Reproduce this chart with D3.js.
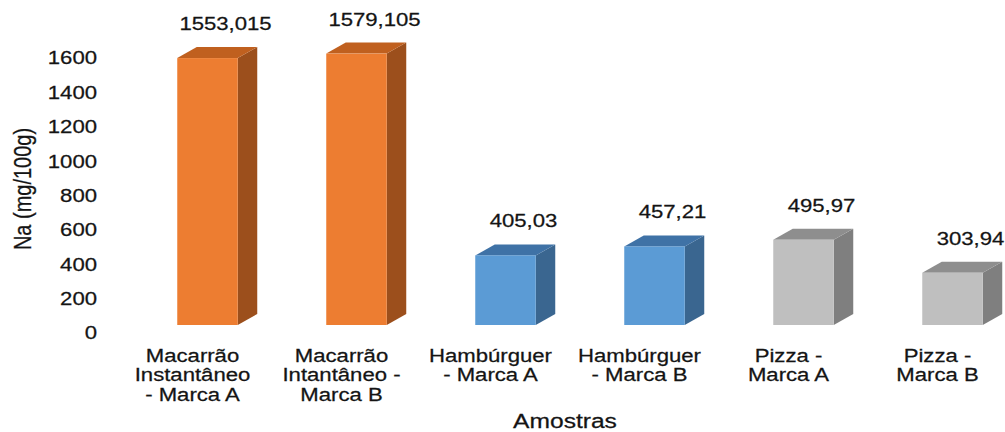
<!DOCTYPE html>
<html>
<head>
<meta charset="utf-8">
<script src="https://cdn.jsdelivr.net/npm/d3@7"></script>
<style>
  body { margin: 0; background: #fff; }
  text { font-family: "Liberation Sans", Arial, sans-serif; fill: #141414; stroke: #141414; stroke-width: 0.25px; }
</style>
</head>
<body>
<div id="chart"></div>
<script>
const width = 1005, height = 432;

// data
const categories = ["MacA", "MacB", "HamA", "HamB", "PizA", "PizB"];
const catLabels = [
  ["Macarrão", "Instantâneo", "- Marca A"],
  ["Macarrão", "Intantâneo -", "Marca B"],
  ["Hambúrguer", "- Marca A"],
  ["Hambúrguer", "- Marca B"],
  ["Pizza -", "Marca A"],
  ["Pizza -", "Marca B"]
];
const groups = ["Macarrão", "Macarrão", "Hambúrguer", "Hambúrguer", "Pizza", "Pizza"];
const sodium = [1553.015, 1579.105, 405.03, 457.21, 495.97, 303.94];
const yTicks = [0, 200, 400, 600, 800, 1000, 1200, 1400, 1600];

const stretch = 1.23;   // the picture's text is a bit wide
const depthX = 19.5, depthY = 11, floorShift = 8;

const svg = d3.select("#chart").append("svg")
    .attr("width", width)
    .attr("height", height);

const y = d3.scaleLinear().domain([0, 1600]).range([333, 58]);
const x = d3.scaleBand()
    .domain(categories)
    .range([133, 1027])
    .paddingInner(0.594)
    .paddingOuter(0.297);

// front / top / side shades
const palette = d3.scaleOrdinal()
    .domain(["Macarrão", "Hambúrguer", "Pizza"])
    .range([
      {front: "#ED7D31", top: "#C0601F", side: "#9C4F1C"},
      {front: "#5B9BD5", top: "#3F72A6", side: "#3A6690"},
      {front: "#BFBFBF", top: "#8E8E8E", side: "#7F7F7F"}
    ]);

// y axis labels
const yAxis = svg.append("g");
yAxis.selectAll("g")
  .data(yTicks)
  .enter().append("g")
    .attr("transform", d => `translate(97,${y(d)}) scale(${stretch},1)`)
  .append("text")
    .attr("text-anchor", "end")
    .attr("dy", "0.36em")
    .style("font-size", "18px")
    .text(d => d);

svg.append("text")
    .attr("transform", `translate(31,189) scale(${stretch},1) rotate(-90)`)
    .attr("text-anchor", "middle")
    .style("font-size", "20px")
    .text("Na (mg/100g)");

// bars
const bars = svg.append("g").selectAll("g")
  .data(categories.map((c, i) => ({c: c, v: sodium[i], g: groups[i], i: i})))
  .enter().append("g");

function face(sel, pts, fill) {
  sel.append("polygon")
    .attr("points", pts.map(p => p.join(",")).join(" "))
    .attr("fill", fill);
}

bars.each(function(d) {
  const g = d3.select(this);
  const x0 = x(d.c), x1 = x(d.c) + x.bandwidth();
  const yb = y(0) - floorShift, yt = y(d.v) - floorShift;
  const col = palette(d.g);
  face(g, [[x1, yb], [x1 + depthX, yb - depthY], [x1 + depthX, yt - depthY], [x1, yt]], col.side);
  face(g, [[x0, yt], [x0 + depthX, yt - depthY], [x1 + depthX, yt - depthY], [x1, yt]], col.top);
  g.append("rect")
    .attr("x", x0).attr("y", yt)
    .attr("width", x1 - x0).attr("height", yb - yt)
    .attr("fill", col.front);

  // value label
  g.append("g")
    .attr("transform", `translate(${x0 + x.bandwidth() / 2 + 18},${yt - depthY - 17}) scale(${stretch},1)`)
    .append("text")
    .attr("text-anchor", "middle")
    .style("font-size", "18px")
    .text(String(d.v).replace(".", ","));

  // category label
  const lab = g.append("g")
    .attr("transform", `translate(${x0 + x.bandwidth() / 2 - 15},362) scale(${stretch},1)`)
    .append("text")
    .attr("text-anchor", "middle")
    .style("font-size", "18px");
  catLabels[d.i].forEach((line, k) => {
    lab.append("tspan").attr("x", 0).attr("y", k * 19.5).text(line);
  });
});

svg.append("g")
  .attr("transform", `translate(565,428) scale(${stretch},1)`)
  .append("text")
    .attr("text-anchor", "middle")
    .style("font-size", "20px")
    .text("Amostras");
</script>
</body>
</html>
